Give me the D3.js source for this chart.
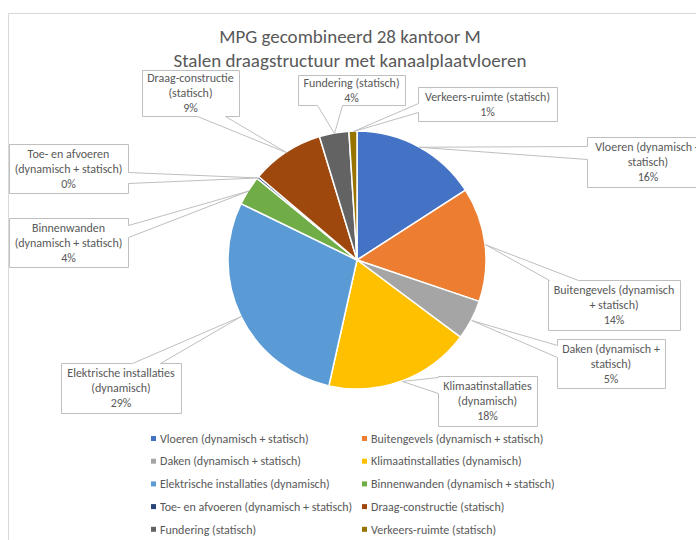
<!DOCTYPE html>
<html>
<head>
<meta charset="utf-8">
<script src="https://cdn.jsdelivr.net/npm/d3@7"></script>
<style>
  body { margin: 0; background: #fff; }
  svg { display: block; font-family: Carlito, Calibri, Lato, sans-serif; }
</style>
</head>
<body>
<svg id="chart" width="696" height="540"></svg>
<script>
// data
const titleLines = ["MPG gecombineerd 28 kantoor M", "Stalen draagstructuur met kanaalplaatvloeren"];
const categories = [
  "Vloeren (dynamisch + statisch)",
  "Buitengevels (dynamisch + statisch)",
  "Daken (dynamisch + statisch)",
  "Klimaatinstallaties (dynamisch)",
  "Elektrische installaties (dynamisch)",
  "Binnenwanden (dynamisch + statisch)",
  "Toe- en afvoeren (dynamisch + statisch)",
  "Draag-constructie (statisch)",
  "Fundering (statisch)",
  "Verkeers-ruimte (statisch)"
];
const values = [15.9, 14.3, 5.0, 18.3, 28.7, 3.7, 0.3, 9.1, 3.7, 1.0];
const colors = ["#4472C4", "#ED7D31", "#A5A5A5", "#FFC000", "#5B9BD5",
                "#70AD47", "#264478", "#9E480E", "#636363", "#997300"];

// callout boxes (layout only)
const callouts = [
  { lines: ["Vloeren (dynamisch +", "statisch)"], x: 587, y: 137, w: 122, h: 50, side: "left", a0: 9, a1: 22 },
  { lines: ["Buitengevels (dynamisch", "+ statisch)"], x: 548, y: 280, w: 132, h: 50, side: "top", a0: 1, a1: 30 },
  { lines: ["Daken (dynamisch +", "statisch)"], x: 557, y: 339, w: 108, h: 49, side: "left", a0: 6, a1: 18 },
  { lines: ["Klimaatinstallaties", "(dynamisch)"], x: 438, y: 376, w: 99, h: 50, side: "left", a0: 1, a1: 17 },
  { lines: ["Elektrische installaties", "(dynamisch)"], x: 61, y: 363, w: 120, h: 50, side: "top", a0: 71, a1: 99 },
  { lines: ["Binnenwanden", "(dynamisch + statisch)"], x: 9, y: 218, w: 119, h: 49, side: "right", a0: 7, a1: 19 },
  { lines: ["Toe- en afvoeren", "(dynamisch + statisch)"], x: 9, y: 144, w: 119, h: 49, side: "right", a0: 28, a1: 39 },
  { lines: ["Draag-constructie", "(statisch)"], x: 142, y: 70, w: 97, h: 46, side: "bottom", a0: 55, a1: 83 },
  { lines: ["Fundering (statisch)"], x: 298, y: 75, w: 107, h: 30, side: "bottom", a0: 19, a1: 44 },
  { lines: ["Verkeers-ruimte (statisch)"], x: 418, y: 87, w: 139, h: 34, side: "left", a0: 16, a1: 25 }
];

const svg = d3.select("#chart");
const textColor = "#595959";

// chart frame
svg.append("rect")
  .attr("x", 8.5).attr("y", 13.5)
  .attr("width", 800).attr("height", 600)
  .attr("fill", "#fff")
  .attr("stroke", "#d9d9d9");

// title
svg.append("g").selectAll("text")
  .data(titleLines)
  .enter().append("text")
  .attr("x", 350)
  .attr("y", (d, i) => 43 + i * 24)
  .attr("text-anchor", "middle")
  .attr("fill", textColor)
  .style("font-size", "19px")
  .text(d => d);

// pie
const cx = 357, cy = 260, r = 129;
const total = d3.sum(values);
const pct = d3.format(".0%");
const arcs = d3.pie().sort(null).value(d => d)(values);
const arc = d3.arc().innerRadius(0).outerRadius(r);
const edge = d3.arc().innerRadius(r).outerRadius(r);

const g = svg.append("g").attr("transform", `translate(${cx},${cy})`);
g.selectAll("path")
  .data(arcs)
  .enter().append("path")
  .attr("d", arc)
  .attr("fill", (d, i) => colors[i])
  .attr("stroke", "#fff")
  .attr("stroke-width", 1.5)
  .attr("stroke-linejoin", "round");

// callouts
function calloutPath(b, t) {
  const { x, y, w, h, side, a0, a1 } = b;
  const p = d3.path();
  p.moveTo(x, y);
  if (side === "top") { p.lineTo(x + a0, y); p.lineTo(t[0], t[1]); p.lineTo(x + a1, y); }
  p.lineTo(x + w, y);
  if (side === "right") { p.lineTo(x + w, y + a0); p.lineTo(t[0], t[1]); p.lineTo(x + w, y + a1); }
  p.lineTo(x + w, y + h);
  if (side === "bottom") { p.lineTo(x + a1, y + h); p.lineTo(t[0], t[1]); p.lineTo(x + a0, y + h); }
  p.lineTo(x, y + h);
  if (side === "left") { p.lineTo(x, y + a1); p.lineTo(t[0], t[1]); p.lineTo(x, y + a0); }
  p.closePath();
  return p.toString();
}

const lbl = svg.append("g");
callouts.forEach((b, i) => {
  const c = edge.centroid(arcs[i]);
  const tip = [cx + c[0], cy + c[1]];
  lbl.append("path")
    .attr("d", calloutPath(b, tip))
    .attr("fill", "#fff")
    .attr("stroke", "#bfbfbf")
    .attr("stroke-width", 1)
    .attr("transform", "translate(0.5,0.5)");
  const lines = b.lines.concat([pct(values[i] / total)]);
  const mid = b.y + b.h / 2;
  lbl.selectAll(null)
    .data(lines)
    .enter().append("text")
    .attr("x", b.x + b.w / 2)
    .attr("y", (d, k) => mid + (k - (lines.length - 1) / 2) * 15)
    .attr("dy", "0.35em")
    .attr("text-anchor", "middle")
    .attr("fill", textColor)
    .style("font-size", "12px")
    .text(d => d);
});

// legend
const legend = svg.append("g");
const item = legend.selectAll("g")
  .data(categories)
  .enter().append("g")
  .attr("transform", (d, i) => `translate(${i % 2 === 0 ? 151 : 362},${438.5 + Math.floor(i / 2) * 22.7})`);
item.append("rect")
  .attr("x", 0).attr("y", -2.5)
  .attr("width", 5).attr("height", 5)
  .attr("fill", (d, i) => colors[i]);
item.append("text")
  .attr("x", 9)
  .attr("dy", "0.35em")
  .attr("fill", textColor)
  .style("font-size", "12px")
  .text(d => d);
</script>
</body>
</html>
